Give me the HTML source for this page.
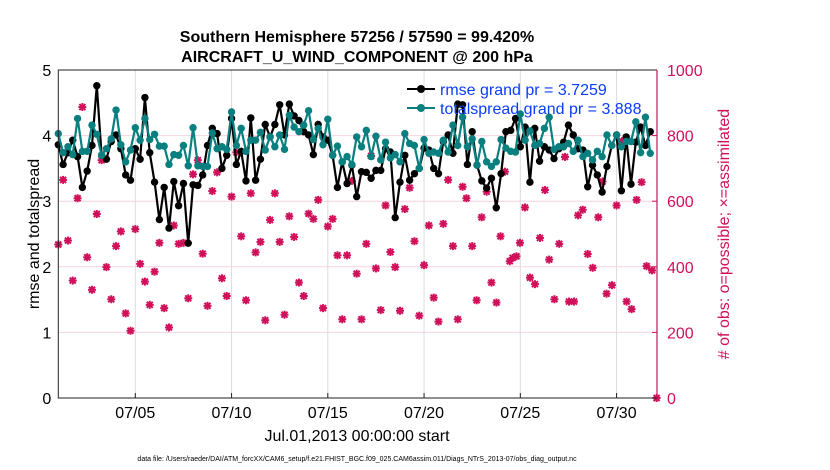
<!DOCTYPE html>
<html><head><meta charset="utf-8"><style>
body{margin:0;background:#fff;}
svg{display:block;font-family:"Liberation Sans",sans-serif;}
</style></head><body>
<svg id="chart" width="830" height="470">
<text x="357" y="42" text-anchor="middle" font-size="16" font-weight="bold">Southern Hemisphere 57256 / 57590 = 99.420%</text>
<text x="357" y="62" text-anchor="middle" font-size="16" font-weight="bold">AIRCRAFT_U_WIND_COMPONENT @ 200 hPa</text>
<g id="grid"></g>
<g id="marks"></g>
<g id="axes"></g>
<text transform="translate(39,234) rotate(-90)" text-anchor="middle" font-size="16">rmse and totalspread</text>
<text transform="translate(729,234) rotate(-90)" text-anchor="middle" font-size="16" fill="#d0105a"># of obs: o=possible; ×=assimilated</text>
<text x="357" y="441" text-anchor="middle" font-size="16">Jul.01,2013 00:00:00 start</text>
<text x="357" y="461" text-anchor="middle" font-size="7">data file: /Users/raeder/DAI/ATM_forcXX/CAM6_setup/f.e21.FHIST_BGC.f09_025.CAM6assim.011/Diags_NTrS_2013-07/obs_diag_output.nc</text>
<g id="marksTop"></g>
<g>
<line x1="407" y1="89" x2="435" y2="89" stroke="#000" stroke-width="2"/>
<circle cx="421" cy="89" r="4" fill="#000"/>
<text x="440" y="95" font-size="16" fill="#0a3cff">rmse grand pr = 3.7259</text>
<line x1="407" y1="108" x2="435" y2="108" stroke="#0a7f7f" stroke-width="2"/>
<circle cx="421" cy="108" r="4" fill="#0a7f7f"/>
<text x="440" y="114" font-size="16" fill="#0a3cff">totalspread grand pr = 3.888</text>
</g>
</svg>
<script>
const rmse=[3.86,3.56,3.74,3.93,3.68,3.21,3.46,3.85,4.76,3.70,3.64,3.91,4.01,3.80,3.40,3.32,3.80,3.64,4.58,3.74,3.29,2.72,3.21,2.59,3.30,2.93,3.27,2.36,3.25,3.24,3.40,3.85,4.11,4.03,3.50,3.70,4.26,3.56,3.76,3.31,4.27,3.32,
3.64,4.17,3.98,4.17,4.47,4.01,4.48,4.30,4.23,4.06,4.01,3.71,4.17,3.98,3.93,3.70,3.21,3.60,3.27,3.55,3.07,3.45,3.44,3.35,3.47,3.47,3.80,3.75,2.75,3.29,3.70,3.32,3.42,3.50,3.81,3.78,3.50,3.42,3.91,4.01,3.73,4.48,
4.47,3.56,4.06,3.55,3.31,3.20,3.35,2.90,3.42,4.06,4.08,4.26,3.83,4.13,3.29,4.11,3.61,3.83,3.78,3.65,3.80,3.90,4.16,4.01,3.80,3.78,3.22,3.55,3.40,3.14,3.53,3.85,4.01,3.16,3.98,3.26,3.90,4.13,3.85,4.06];
const spread=[4.03,3.74,3.83,3.71,4.26,3.76,3.76,4.16,4.02,3.70,3.80,3.95,4.39,3.86,3.60,3.78,4.12,3.93,4.26,3.94,4.02,3.84,3.84,3.56,3.71,3.70,3.85,3.54,4.12,3.54,3.53,3.53,4.04,3.80,3.83,3.79,4.36,3.85,4.11,3.76,3.93,3.93,
4.05,3.78,3.98,3.83,4.01,3.79,4.31,4.13,4.06,4.16,4.38,3.94,4.11,3.86,4.25,3.70,3.84,3.60,3.68,3.56,3.98,3.83,4.08,3.68,3.99,3.63,3.90,3.66,3.71,3.60,4.03,3.88,3.85,3.50,3.94,3.73,3.75,3.73,3.93,3.75,4.16,3.85,
4.28,3.83,3.95,3.55,3.91,3.60,3.53,3.60,3.94,3.81,3.76,3.75,4.33,3.93,4.07,3.85,3.88,4.11,4.28,3.79,3.83,3.83,3.88,3.76,3.93,3.68,3.73,3.63,3.76,3.68,4.01,3.85,4.01,3.83,3.91,3.91,4.21,3.74,4.28,3.73];
const obsSlots=[468,665,480,358,609,887,429,330,561,725,399,301,463,508,258,205,515,409,355,284,385,473,274,215,526,470,473,304,682,725,440,281,631,688,365,311,614,749,493,298,624,444,
476,237,543,624,476,254,554,491,352,311,562,546,604,274,523,546,435,240,435,662,379,240,470,738,395,268,587,445,399,266,576,641,478,251,405,526,306,233,531,665,463,240];
const obsLateDays=[21.0,21.2,21.5,21.73,21.99,22.25,22.5,22.76,22.97,23.2,23.45,23.6,23.8,23.98,24.24,24.5,24.76,25.02,25.28,25.5,25.77,26.02,26.32,26.53,26.79,27.0,27.24,27.5,27.76,28.05,28.27,28.48,28.76,29.0,29.28,29.52,29.78,30.04,30.3,30.56,30.84,31.08];
const obsLate=[644,609,463,298,551,629,352,291,493,690,417,427,432,473,581,367,347,488,634,422,301,470,735,294,294,557,574,439,397,551,660,318,344,587,783,294,271,604,658,402,389,0];
const xTickDays=[4,9,14,19,24,29];
const xTickLabels=["07/05","07/10","07/15","07/20","07/25","07/30"];
const yTicks=[0,1,2,3,4,5];
const y2Ticks=[0,200,400,600,800,1000];

const L=58.3,R=657,T=70,B=398,XMAX=31.1;
const sx=d=>L+d*(R-L)/XMAX;
const sy=v=>B-v*(B-T)/5;
const sy2=v=>B-v*(B-T)/1000;
const NS="http://www.w3.org/2000/svg";
function mk(tag,attrs,parent){const e=document.createElementNS(NS,tag);for(const k in attrs)e.setAttribute(k,attrs[k]);parent.appendChild(e);return e;}
const grid=document.getElementById('grid'),marks=document.getElementById('marks'),axes=document.getElementById('axes');
yTicks.slice(1,5).forEach(v=>{const l=mk('line',{x1:L,x2:R,y1:sy(v),y2:sy(v),stroke:'#f6d2e0','stroke-width':1},grid);

});
xTickDays.forEach((d,i)=>{const l=mk('line',{x1:sx(d),x2:sx(d),y1:T,y2:B,stroke:'#dcdcdc','stroke-width':1},grid);


const t=mk('text',{x:sx(d),y:B+20,'text-anchor':'middle','font-size':16},axes);t.textContent=xTickLabels[i];


const tk=mk('line',{x1:sx(d),x2:sx(d),y1:B,y2:B-5,stroke:'#222'},axes);

});
yTicks.forEach(v=>{const t=mk('text',{x:L-7,y:sy(v)+6,'text-anchor':'end','font-size':16},axes);t.textContent=v;

});
y2Ticks.forEach(v=>{const t=mk('text',{x:R+10,y:sy2(v)+6,'font-size':16,fill:'#d0105a'},axes);t.textContent=v;


const tk=mk('line',{x1:R,x2:R-5,y1:sy2(v),y2:sy2(v),stroke:'#d0105a'},axes);

});
const frame=mk('path',{d:`M${R},${T}H${L}V${B}H${R}`,fill:'none',stroke:'#222','stroke-width':1},axes);


const rs=mk('line',{x1:R,x2:R,y1:T,y2:B,stroke:'#d0105a','stroke-width':1.2},axes);



function star(x,y){const g=mk('g',{stroke:'#d0105a','stroke-width':2},marks);


mk('line',{x1:x-4,x2:x+4,y1:y,y2:y},g);mk('line',{x1:x,x2:x,y1:y-4,y2:y+4},g);
mk('line',{x1:x-3,x2:x+3,y1:y-3,y2:y+3},g);mk('line',{x1:x-3,x2:x+3,y1:y+3,y2:y-3},g);}
obsSlots.forEach((v,k)=>star(sx(k/4),sy2(v)));
obsLate.forEach((v,i)=>star(sx(obsLateDays[i]),sy2(v)));

function series(vals,color,name){
const pts=vals.map((v,k)=>sx(k/4).toFixed(1)+','+sy(v).toFixed(1)).join(' ');
const pl=mk('polyline',{points:pts,fill:'none',stroke:color,'stroke-width':2.2},marks);


vals.forEach((v,k)=>{const c=mk('circle',{cx:sx(k/4),cy:sy(v),r:3.7,fill:color},marks);

});}
series(rmse,'#000','rmse');
series(spread,'#0a7f7f','totalspread');
</script>
</body></html>
